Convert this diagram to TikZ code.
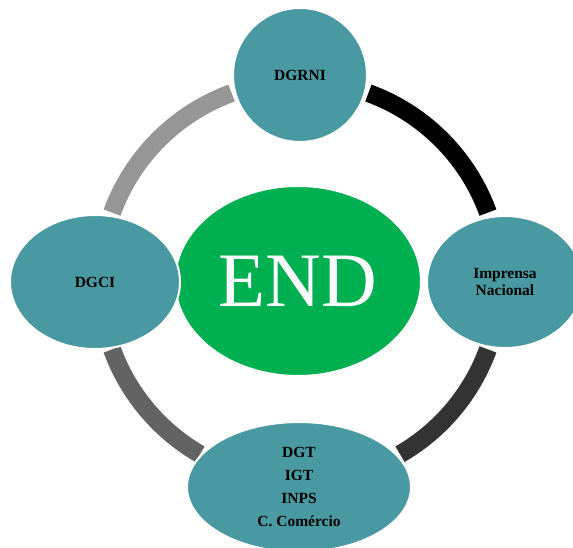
\documentclass[tikz,border=0pt]{standalone}
\usepackage{fontspec}
\setmainfont{Liberation Serif}
\usetikzlibrary{shapes.geometric}
\definecolor{unitteal}{RGB}{72,153,161}
\definecolor{endgreen}{RGB}{0,176,80}
\definecolor{ringdark}{RGB}{51,51,51}
\definecolor{ringmid}{RGB}{99,99,99}
\definecolor{ringlight}{RGB}{150,150,150}
\begin{document}
\begin{tikzpicture}
[x=1pt,y=-1pt,
unitnode/.style={ellipse,fill=unitteal,draw=white,line width=2pt,inner sep=0pt,
align=center,font=\fontsize{15.5}{23}\selectfont\bfseries},
hubnode/.style={ellipse,fill=endgreen,draw=white,line width=2pt,inner sep=0pt,
text=white,font=\fontsize{77}{80}\selectfont},
ringarc/.style={line width=18pt}
]
\clip (0,0) rectangle (573,548);
\useasboundingbox (0,0) rectangle (573,548);
\coordinate (hub) at (300,281);
\draw [ringarc,black] (hub) ++(70:200pt) arc[start angle=70,end angle=20,radius=200pt];
\draw [ringarc,ringdark] (hub) ++(-20:200pt) arc[start angle=-20,end angle=-60,radius=200pt];
\draw [ringarc,ringmid] (hub) ++(240:200pt) arc[start angle=240,end angle=200,radius=200pt];
\draw [ringarc,ringlight] (hub) ++(160:200pt) arc[start angle=160,end angle=110,radius=200pt];
\node [hubnode,minimum width=246pt,minimum height=190pt] (END) at (298,281) {END};
\node [unitnode,circle,minimum size=134pt] (DGRNI) at (300,75) {DGRNI};
\node [unitnode,minimum width=156pt,minimum height=132pt] (IN) at (505,282) {Imprensa\\[-6pt]Nacional};
\node [unitnode,minimum width=170pt,minimum height=134pt] (DGCI) at (95,282) {DGCI};
\node [unitnode,minimum width=224pt,minimum height=130pt] (DGT) at (299,487) {DGT\\IGT\\INPS\\C. Comércio};
\end{tikzpicture}
\end{document}
